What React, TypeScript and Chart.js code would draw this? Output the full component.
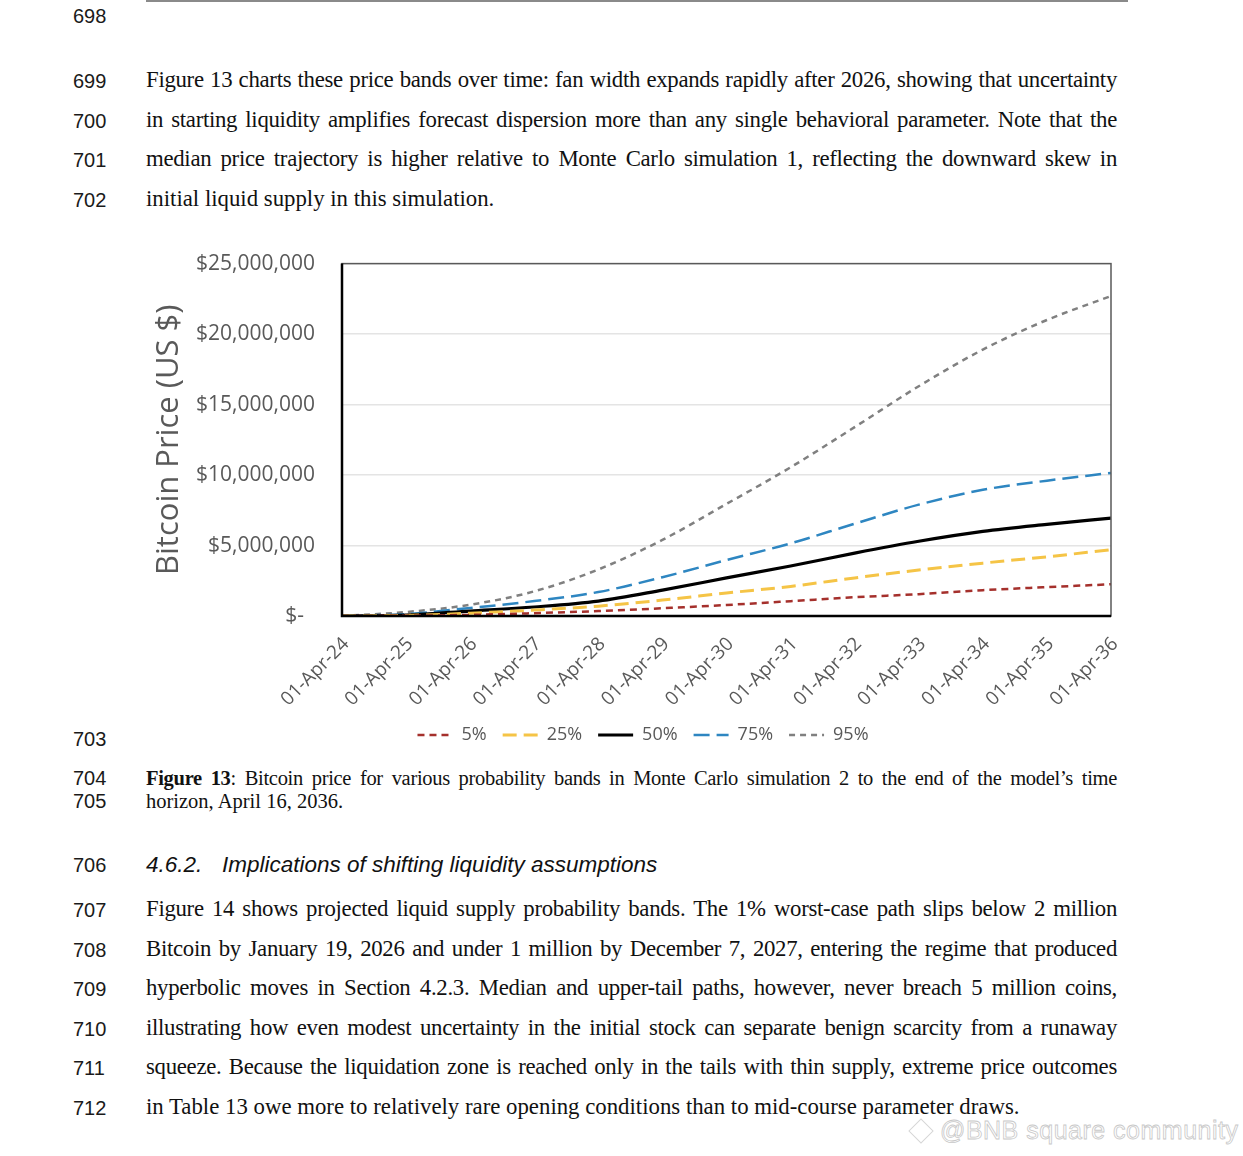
import React, { useEffect, useRef } from 'react';
import { Chart, registerables } from 'chart.js';

Chart.register(...registerables);

// ---------- chart data ----------
const dateLabels = [
  '01-Apr-24', '01-Apr-25', '01-Apr-26', '01-Apr-27', '01-Apr-28', '01-Apr-29', '01-Apr-30',
  '01-Apr-31', '01-Apr-32', '01-Apr-33', '01-Apr-34', '01-Apr-35', '01-Apr-36',
];
const p5 = [0, 20000, 80000, 200000, 350000, 550000, 780000, 1050000, 1330000, 1550000, 1830000, 2050000, 2250000];
const p25 = [0, 40000, 200000, 420000, 700000, 1130000, 1630000, 2100000, 2700000, 3260000, 3750000, 4200000, 4700000];
const p50 = [0, 70000, 350000, 640000, 1060000, 1840000, 2700000, 3550000, 4460000, 5300000, 6000000, 6500000, 6940000];
const p75 = [0, 140000, 570000, 1060000, 1700000, 2750000, 3970000, 5150000, 6550000, 7900000, 8950000, 9600000, 10150000];
const p95 = [0, 280000, 800000, 1750000, 3300000, 5400000, 7950000, 10550000, 13400000, 16300000, 18900000, 21000000, 22700000];
const seriesNames = ['5%', '25%', '50%', '75%', '95%'];
const yMax = 25000000;
const yStep = 5000000;
const yTitle = 'Bitcoin Price (US $)';

// ---------- page text ----------
const para1 = [
  { n: '699', t: 'Figure 13 charts these price bands over time: fan width expands rapidly after 2026, showing that uncertainty', j: true },
  { n: '700', t: 'in starting liquidity amplifies forecast dispersion more than any single behavioral parameter. Note that the', j: true },
  { n: '701', t: 'median price trajectory is higher relative to Monte Carlo simulation 1, reflecting the downward skew in', j: true },
  { n: '702', t: 'initial liquid supply in this simulation.', j: false },
];
const para2 = [
  { n: '707', t: 'Figure 14 shows projected liquid supply probability bands. The 1% worst-case path slips below 2 million', j: true },
  { n: '708', t: 'Bitcoin by January 19, 2026 and under 1 million by December 7, 2027, entering the regime that produced', j: true },
  { n: '709', t: 'hyperbolic moves in Section 4.2.3. Median and upper-tail paths, however, never breach 5 million coins,', j: true },
  { n: '710', t: 'illustrating how even modest uncertainty in the initial stock can separate benign scarcity from a runaway', j: true },
  { n: '711', t: 'squeeze. Because the liquidation zone is reached only in the tails with thin supply, extreme price outcomes', j: true },
  { n: '712', t: 'in Table 13 owe more to relatively rare opening conditions than to mid-course parameter draws.', j: false },
];
const captionBold = 'Figure 13';
const captionLine1 = ': Bitcoin price for various probability bands in Monte Carlo simulation 2 to the end of the model\u2019s time';
const captionLine2 = 'horizon, April 16, 2036.';
const headingNum = '4.6.2.';
const headingText = 'Implications of shifting liquidity assumptions';

const SERIF = '"Liberation Serif", "Times New Roman", serif';
const SANS = '"Liberation Sans", Arial, sans-serif';

function topFor(baseline: number, size: number, lh: number, asc: number, desc: number) {
  return baseline - ((lh - (asc + desc) * size) / 2 + asc * size);
}

function Line(props: any) {
  const { baseline, x, w, size, family, justify, children, style, asc = 0.891, desc = 0.216 } = props;
  const lh = Math.round(size * 1.3);
  return (
    <div
      style={{
        position: 'absolute',
        left: x,
        top: topFor(baseline, size, lh, asc, desc),
        width: w,
        fontFamily: family,
        fontSize: size,
        lineHeight: lh + 'px',
        height: lh,
        whiteSpace: 'nowrap',
        textAlign: justify ? 'justify' : 'left',
        textAlignLast: justify ? 'justify' : 'left',
        letterSpacing: justify ? '-0.3px' : 'normal',
        color: '#111',
        ...style,
      }}
    >
      {children}
    </div>
  );
}

function LineNo({ baseline, n }: any) {
  return (
    <Line baseline={baseline} x={73} w={60} size={20} family={SANS} asc={0.905} desc={0.212} style={{ color: '#1a1a1a', letterSpacing: 'normal' }}>
      {n}
    </Line>
  );
}

const plotFrame = {
  id: 'plotFrame',
  afterDatasetsDraw(chart: any) {
    const { ctx, chartArea: a } = chart;
    ctx.save();
    ctx.strokeStyle = '#595959';
    ctx.lineWidth = 1.5;
    ctx.strokeRect(a.left, a.top, a.right - a.left, a.bottom - a.top);
    ctx.strokeStyle = '#000';
    ctx.lineWidth = 2.5;
    ctx.beginPath();
    ctx.moveTo(a.left, a.top);
    ctx.lineTo(a.left, a.bottom);
    ctx.lineTo(a.right, a.bottom);
    ctx.stroke();
    ctx.restore();
  },
};

function PriceChart() {
  const ref = useRef<HTMLCanvasElement>(null);
  useEffect(() => {
    if (!ref.current) return;
    const gray = '#595959';
    const fam = '"Open Sans", "Liberation Sans", sans-serif';
    const chart = new Chart(ref.current, {
      type: 'line',
      data: {
        labels: dateLabels,
        datasets: [
          { label: seriesNames[0], data: p5, borderColor: '#A5302C', backgroundColor: '#A5302C', borderWidth: 2.5, borderDash: [7, 5] },
          { label: seriesNames[1], data: p25, borderColor: '#F5C446', backgroundColor: '#F5C446', borderWidth: 3, borderDash: [14, 7] },
          { label: seriesNames[2], data: p50, borderColor: '#000000', backgroundColor: '#000000', borderWidth: 3.2 },
          { label: seriesNames[3], data: p75, borderColor: '#2E86C1', backgroundColor: '#2E86C1', borderWidth: 2.5, borderDash: [16, 7] },
          { label: seriesNames[4], data: p95, borderColor: '#808080', backgroundColor: '#808080', borderWidth: 2.5, borderDash: [6, 5] },
        ].map((d) => ({ ...d, pointRadius: 0, fill: false, cubicInterpolationMode: 'monotone' as const })),
      },
      options: {
        animation: false,
        responsive: false,
        events: [],
        layout: { padding: { top: 23, right: 35, left: 35, bottom: 0 } },
        plugins: {
          tooltip: { enabled: false },
          legend: {
            position: 'bottom',
            labels: {
              usePointStyle: true,
              pointStyle: 'line',
              pointStyleWidth: 35,
              boxHeight: 18,
              padding: 16,
              color: gray,
              font: { family: fam, size: 18 },
              generateLabels: (c: any) => {
                const items = (Chart.defaults as any).plugins.legend.labels.generateLabels(c);
                items.forEach((it: any) => {
                  const ds: any = c.data.datasets[it.datasetIndex];
                  it.lineDash = ds.borderDash || [];
                  it.lineWidth = ds.borderWidth;
                  it.strokeStyle = ds.borderColor;
                  it.fillStyle = ds.borderColor;
                  it.pointStyle = 'line';
                });
                return items;
              },
            },
          },
        },
        scales: {
          x: {
            grid: { display: false, drawTicks: false },
            border: { display: false },
            ticks: {
              autoSkip: false,
              minRotation: 45,
              maxRotation: 45,
              padding: 17,
              labelOffset: 4,
              color: gray,
              font: { family: fam, size: 19 },
            },
            afterFit: (s: any) => { s.height = 94; },
          },
          y: {
            min: 0,
            max: yMax,
            grid: { color: '#e4e4e4', lineWidth: 1.5, drawTicks: false },
            border: { display: false },
            ticks: {
              stepSize: yStep,
              padding: 27,
              color: gray,
              font: { family: fam, size: 21 },
              callback: (v: any) => (Number(v) === 0 ? '$-  ' : '$' + Number(v).toLocaleString('en-US')),
            },
            title: {
              display: true,
              text: yTitle,
              color: gray,
              font: { family: fam, size: 31 },
              padding: { top: -24, bottom: 0 },
            },
            afterFit: (s: any) => { s.width = 167; },
          },
        },
      },
      plugins: [plotFrame],
    } as any);
    return () => chart.destroy();
  }, []);
  return (
    <canvas
      ref={ref}
      width={1006}
      height={530}
      style={{ position: 'absolute', left: 140, top: 224, width: 1006, height: 530 }}
    />
  );
}

export default function App() {
  const textX = 146;
  const textW = 971;
  const fs = 22.8;
  const p1Base = [88, 127.5, 167, 206.5];
  const p2Base = [917, 956.5, 996, 1035.5, 1075, 1114.5];
  return (
    <div style={{ position: 'absolute', left: 0, top: 0, width: 1243, height: 1156, background: '#fff', overflow: 'hidden' }}>
      <div style={{ position: 'absolute', left: 146, top: 0, width: 982, height: 2, background: '#8a8a8a' }} />
      <LineNo baseline={23} n="698" />
      {para1.map((l, i) => (
        <React.Fragment key={l.n}>
          <LineNo baseline={p1Base[i]} n={l.n} />
          <Line baseline={p1Base[i]} x={textX} w={textW} size={fs} family={SERIF} justify={l.j}>{l.t}</Line>
        </React.Fragment>
      ))}
      <PriceChart />
      <LineNo baseline={746} n="703" />
      <LineNo baseline={785} n="704" />
      <Line baseline={785} x={textX} w={textW} size={20.5} family={SERIF} justify>
        <b>{captionBold}</b>{captionLine1}
      </Line>
      <LineNo baseline={808} n="705" />
      <Line baseline={808} x={textX} w={textW} size={20.5} family={SERIF}>{captionLine2}</Line>
      <LineNo baseline={872} n="706" />
      <Line baseline={872} x={textX} w={200} size={22.5} family={SANS} asc={0.905} desc={0.212} style={{ fontStyle: 'italic' }}>{headingNum}</Line>
      <Line baseline={872} x={222} w={700} size={22.5} family={SANS} asc={0.905} desc={0.212} style={{ fontStyle: 'italic' }}>{headingText}</Line>
      {para2.map((l, i) => (
        <React.Fragment key={l.n}>
          <LineNo baseline={p2Base[i]} n={l.n} />
          <Line baseline={p2Base[i]} x={textX} w={textW} size={fs} family={SERIF} justify={l.j}>{l.t}</Line>
        </React.Fragment>
      ))}
      <div style={{ position: 'absolute', left: 912, top: 1122, width: 16, height: 16, border: '1.5px solid #d6d6d6', transform: 'rotate(45deg)' }} />
      <Line baseline={1139} x={940} w={300} size={25} family={SANS} asc={0.905} desc={0.212}
        style={{ color: '#ffffff', WebkitTextStroke: '0.8px #c8c8c8', letterSpacing: '0.5px' }}>@BNB square community</Line>
    </div>
  );
}
